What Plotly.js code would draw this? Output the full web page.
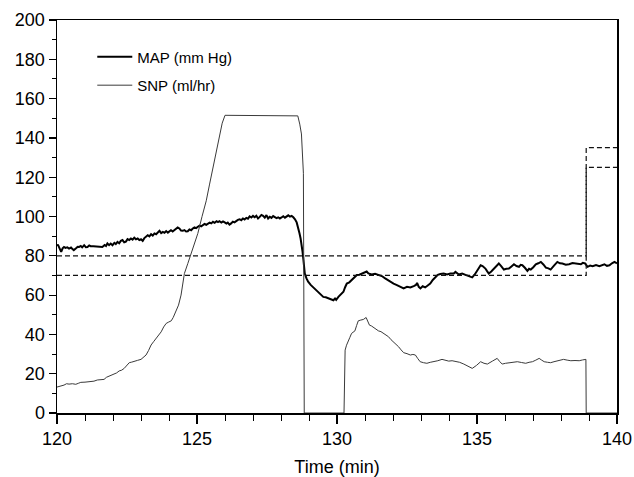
<!DOCTYPE html>
<html>
<head>
<meta charset="utf-8">
<script src="https://cdn.plot.ly/plotly-3.0.1.min.js"></script>
<style>
html,body{margin:0;padding:0;background:#fff;}
#chart{width:634px;height:477px;}
</style>
</head>
<body>
<div id="chart"></div>
<script>
// MAP (mm Hg) trace
const mapTime = [120.0,120.04,120.1,120.15,120.2,120.25,120.3,120.37,120.43,120.5,120.55,120.6,120.68,120.74,120.79,120.85,120.9,120.97,121.03,121.09,121.15,121.2,121.3,121.4,121.5,121.62,121.7,121.75,121.8,121.86,121.92,121.98,122.05,122.1,122.16,122.22,122.28,122.34,122.4,122.46,122.52,122.58,122.64,122.7,122.76,122.82,122.88,122.94,123.0,123.06,123.12,123.18,123.24,123.3,123.36,123.42,123.48,123.54,123.6,123.66,123.72,123.78,123.84,123.9,123.96,124.01,124.07,124.13,124.19,124.25,124.31,124.37,124.43,124.49,124.55,124.61,124.67,124.73,124.79,124.85,124.91,124.97,125.03,125.09,125.15,125.21,125.27,125.33,125.39,125.45,125.51,125.57,125.63,125.7,125.75,125.8,125.87,125.93,125.99,126.05,126.1,126.16,126.22,126.28,126.34,126.4,126.46,126.52,126.58,126.64,126.7,126.76,126.82,126.88,126.94,127.0,127.06,127.12,127.18,127.24,127.3,127.36,127.42,127.48,127.54,127.6,127.66,127.72,127.78,127.84,127.9,127.96,128.02,128.08,128.14,128.2,128.26,128.32,128.38,128.44,128.5,128.56,128.61,128.66,128.7,128.73,128.77,128.8,128.82,128.85,128.91,128.97,129.06,129.15,129.24,129.33,129.42,129.51,129.6,129.69,129.78,129.87,129.93,129.97,130.05,130.14,130.23,130.29,130.35,130.44,130.53,130.62,130.71,130.8,130.9,131.0,131.06,131.12,131.24,131.36,131.48,131.6,131.72,131.81,131.9,132.02,132.14,132.26,132.38,132.5,132.62,132.74,132.82,132.86,132.92,132.98,133.06,133.15,133.24,133.33,133.42,133.51,133.6,133.69,133.81,133.93,134.05,134.17,134.23,134.35,134.47,134.59,134.71,134.77,134.83,134.92,135.01,135.07,135.13,135.2,135.3,135.36,135.42,135.51,135.6,135.69,135.78,135.87,135.96,136.05,136.14,136.23,136.32,136.41,136.5,136.56,136.62,136.71,136.8,136.86,136.92,137.01,137.1,137.19,137.28,137.37,137.46,137.55,137.63,137.75,137.87,137.96,138.05,138.17,138.29,138.41,138.53,138.62,138.71,138.78,138.86,138.95,139.04,139.13,139.25,139.37,139.46,139.55,139.64,139.73,139.82,139.91,140.0];
const mapValue = [85.5,85.4,83.5,82,83.8,84.5,84,84.3,83.7,84.2,83.5,82.9,83.8,84.6,84.5,85,84.3,85.4,84.4,84.5,85.3,84.9,84.8,84.7,84.6,84.5,85.5,85,86.3,85.4,86.2,85.4,86.6,86,87.1,86.4,87.6,88,86.9,87.2,88.5,88,88.8,88.2,89.2,88.4,88.8,88,88.4,87.6,89,89.8,90.5,89.9,91,90.3,91.4,91,92,92.7,91.6,92.2,91.7,92.6,91.8,92.2,93,92.4,93,93.6,94.4,93.9,92.8,92.7,93.1,92.4,92.5,93.4,93,93.9,94.5,94.1,94.7,95.4,95,95.6,96.2,95.8,96.4,96.9,96.5,97.3,96.8,97.6,97.2,97.6,96.9,97.5,97,96.4,96.9,95.9,96.5,97.4,97,97.8,98.3,98.6,98.1,99,98.5,99.3,98.9,100.1,99.5,100.3,99.6,100.4,99,99.8,100.8,100.3,99.4,100.7,99,99.9,99.3,100.2,99.8,99.2,99.6,99,99.5,100.1,99.4,99.8,100.6,99.9,100.3,99.6,98.6,97,94.7,91.5,88.8,86.3,82,78,76.1,71,68.5,66.8,65.2,63.9,62.8,61.7,60.2,59.1,58.9,58.3,57.9,57.4,58.3,57.6,59.1,60.4,61.7,64,65.9,66.5,67.6,68.6,70.2,70.4,71,71.3,72,71,70.5,70.8,70.2,69.7,68.5,67.6,66.8,65.8,65.1,64.3,63.4,64.2,63.9,64.6,65.2,66.2,64.2,63.4,64.5,63.9,64.8,65.9,67.7,69.3,70.3,70.7,71,70.5,71,71,71.8,70.5,71,70.3,69.7,69.3,69,70.5,72.7,74,75.2,74.8,73.5,72.2,71,72,73.5,75,76.1,74.6,73,73.4,73.5,74.6,75.7,74.8,74.4,75.4,75.2,73.9,72.3,73.4,73,74.2,75.7,76.2,76.9,75.6,74,73.6,73,75,76.9,76.2,76.1,75.5,75.7,76.3,76.1,75.6,75.7,76.4,76.1,74.4,75,74.7,75.3,74.7,75.4,75.7,74.9,75.2,76.2,76.9,76.2];

// SNP (ml/hr) trace
const snpTime = [120.0,120.07,120.16,120.25,120.34,120.43,120.55,120.67,120.76,120.85,121.0,121.21,121.32,121.44,121.56,121.68,121.77,121.86,121.95,122.04,122.13,122.22,122.31,122.4,122.49,122.58,122.67,122.76,122.88,123.0,123.09,123.18,123.27,123.36,123.45,123.54,123.63,123.72,123.81,123.9,123.99,124.08,124.15,124.22,124.28,124.34,124.43,124.49,124.55,124.67,124.79,124.91,125.03,125.18,125.33,125.45,125.57,125.69,125.8,125.9,126.0,126.5,127.0,127.5,128.0,128.4,128.6,128.67,128.73,128.8,128.83,130.25,130.26,130.29,130.34,130.4,130.46,130.52,130.58,130.64,130.7,130.76,130.85,130.94,131.04,131.1,131.16,131.23,131.3,131.39,131.48,131.57,131.66,131.75,131.84,131.93,132.02,132.11,132.2,132.29,132.38,132.5,132.62,132.71,132.8,132.88,132.97,133.09,133.21,133.33,133.45,133.6,133.75,133.87,133.99,134.11,134.23,134.38,134.53,134.68,134.83,134.98,135.13,135.25,135.37,135.55,135.72,135.81,135.9,136.02,136.14,136.29,136.44,136.59,136.74,136.86,136.98,137.1,137.22,137.31,137.4,137.52,137.63,137.75,137.87,137.98,138.09,138.22,138.35,138.5,138.65,138.77,138.89,138.9,140.0];
const snpValue = [13.2,13.4,14.0,14.2,14.9,14.7,14.9,14.6,15.1,15.6,15.7,15.9,16.2,16.8,16.9,17.1,18.2,18.8,19.1,19.8,20.4,21.4,21.8,22.7,24.0,25.6,25.9,26.4,26.8,27.3,28.2,29.5,31.8,34.6,36.3,38.0,39.6,41.3,43.8,45.6,46.3,46.9,48.6,50.7,52.6,54.9,60,65,71,76,81,86.5,91.4,100,108,116.5,125,133.5,142,147.5,151.5,151.5,151.5,151.5,151.5,151.5,151.2,147,142,122,0,0,22,32,34.5,36.2,38.5,40.5,41.2,41.8,44.5,46.9,47.3,47.6,48.6,46.2,44.7,44.3,43.6,42.5,41.8,41.4,40.5,39.4,38.8,37.3,36.2,35.1,33.7,32.1,30.7,30.2,29.5,29.8,29.5,27.8,26.1,25.6,25.3,25.8,26.1,26.6,27.3,26.8,26.4,26.6,26.4,25.8,24.9,23.8,22.7,24.2,26.1,25.3,24.9,26.4,27.8,26.2,24.9,25.3,25.6,25.9,26.1,25.7,25.3,25.8,26.1,26.9,27.8,26.9,26.1,25.8,25.6,26.1,26.6,27.0,27.3,26.9,26.6,26.7,26.6,27.0,27.3,0,0];

// MAP target limits (dashed)
const limitTime = [120, 138.9, 138.9, 140];
const upperLimit = [80, 80, 135, 135];
const lowerLimit = [70, 70, 125, 125];

const xTicks = [120, 125, 130, 135, 140];
const yTicks = [0, 20, 40, 60, 80, 100, 120, 140, 160, 180, 200];

const FONT = 'Liberation Sans, Arial, Helvetica, sans-serif';

const traces = [
  {x: mapTime, y: mapValue, type: 'scatter', mode: 'lines', name: 'MAP (mm Hg)',
   legendgroup: 'a', line: {color: '#000000', width: 2}},
  {x: snpTime, y: snpValue, type: 'scatter', mode: 'lines', name: 'SNP (ml/hr)',
   legendgroup: 'b', line: {color: '#3a3a3a', width: 1}},
  {x: limitTime, y: upperLimit, type: 'scatter', mode: 'lines', showlegend: false,
   line: {color: '#111111', width: 1.2, dash: '5px,3px'}},
  {x: limitTime, y: lowerLimit, type: 'scatter', mode: 'lines', showlegend: false,
   line: {color: '#111111', width: 1.2, dash: '5px,3px'}}
];

const layout = {
  width: 634, height: 477,
  margin: {l: 57, r: 17, t: 20, b: 64},
  paper_bgcolor: '#ffffff', plot_bgcolor: '#ffffff',
  font: {family: FONT, color: '#000000', size: 18},
  showlegend: true,
  legend: {x: 0.063, y: 0.948, xanchor: 'left', yanchor: 'top',
    font: {family: FONT, size: 15, color: '#000'}, bgcolor: 'rgba(0,0,0,0)',
    borderwidth: 0, itemwidth: 35, tracegroupgap: 6, traceorder: 'grouped'},
  xaxis: {range: [120, 140], tickvals: xTicks, ticktext: xTicks.map(String),
    ticks: 'outside', ticklen: 9, tickwidth: 1.2, tickcolor: '#000',
    minor: {dtick: 1, ticks: 'outside', ticklen: 6, tickwidth: 1, tickcolor: '#000', showgrid: false},
    showline: true, linecolor: '#000', linewidth: 1.5, mirror: true,
    showgrid: false, zeroline: false,
    tickfont: {family: FONT, size: 18, color: '#000'},
    title: {text: 'Time (min)', font: {family: FONT, size: 18, color: '#000'}, standoff: 12}},
  yaxis: {range: [0, 200], tickvals: yTicks, ticktext: yTicks.map(String),
    ticks: 'outside', ticklen: 7, tickwidth: 1.2, tickcolor: '#000',
    minor: {dtick: 10, ticks: 'outside', ticklen: 4, tickwidth: 1, tickcolor: '#000', showgrid: false},
    showline: true, linecolor: '#000', linewidth: 1.5, mirror: true,
    showgrid: false, zeroline: false,
    tickfont: {family: FONT, size: 18, color: '#000'}}
};

Plotly.newPlot('chart', traces, layout, {staticPlot: true, displayModeBar: false});
</script>
</body>
</html>
